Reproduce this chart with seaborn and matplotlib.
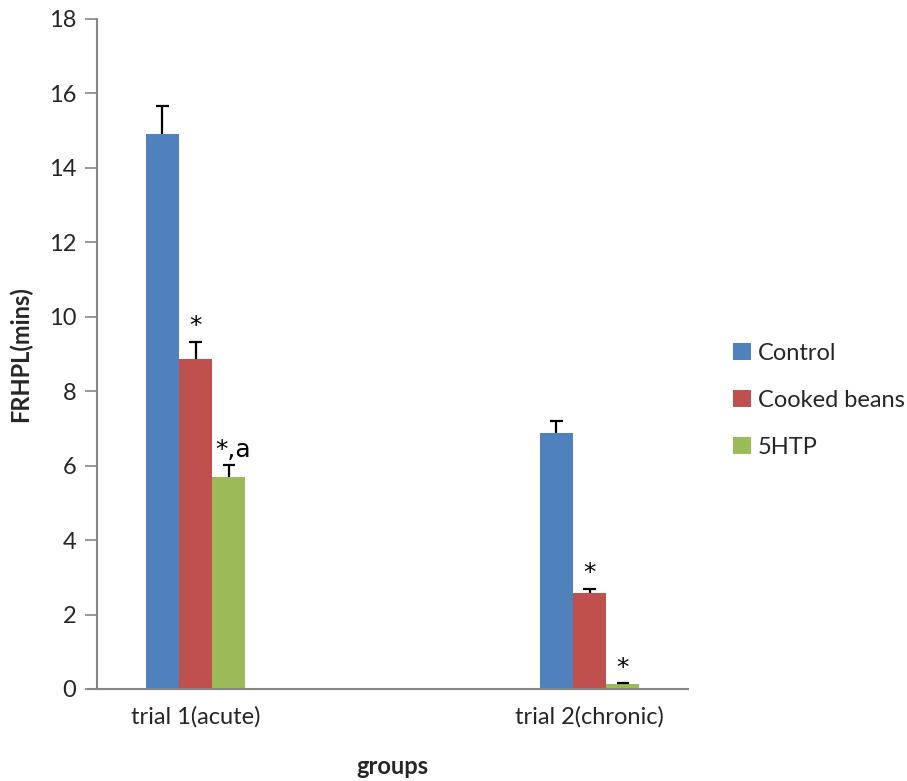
import matplotlib
matplotlib.use("Agg")
import matplotlib.pyplot as plt
import seaborn as sns
import pandas as pd

groups = ["trial 1(acute)", "trial 2(chronic)"]
treatments = ["Control", "Cooked beans", "5HTP"]
control = [14.91, 6.87]
cooked_beans = [8.86, 2.57]
htp = [5.70, 0.13]
control_err = [0.75, 0.34]
cooked_beans_err = [0.46, 0.12]
htp_err = [0.31, 0.02]
marks = {("Cooked beans", 0): "*", ("5HTP", 0): "*,a",
         ("Cooked beans", 1): "*", ("5HTP", 1): "*"}
yticks = [0, 2, 4, 6, 8, 10, 12, 14, 16, 18]

palette = {"Control": "#4F81BD", "Cooked beans": "#C0504D", "5HTP": "#9BBB59"}

rows = []
for name, vals, errs in [("Control", control, control_err),
                         ("Cooked beans", cooked_beans, cooked_beans_err),
                         ("5HTP", htp, htp_err)]:
    for g, v, e in zip(groups, vals, errs):
        rows.append({"group": g, "treatment": name, "value": v, "err": e})
df = pd.DataFrame(rows)

sns.set_theme(style="white")
plt.rcParams["font.family"] = ["Lato", "DejaVu Sans"]

FS = 17

fig = plt.figure(figsize=(9.07, 7.81), dpi=100)
ax = fig.add_axes([0.107, 0.1178, 0.6516, 0.8579])

sns.barplot(data=df, x="group", y="value", hue="treatment", order=groups,
            hue_order=treatments, palette=palette, width=0.252, gap=0,
            errorbar=None, saturation=1, ax=ax, legend=True,
            edgecolor="none", linewidth=0)

# upper-only error bars with a short cap, plus significance marks
cap_half = 0.0155
for ti, name in enumerate(treatments):
    container = ax.containers[ti]
    for gi, bar in enumerate(container):
        x = bar.get_x() + bar.get_width() / 2
        h = bar.get_height()
        sub = df[(df.treatment == name) & (df.group == groups[gi])]
        e = float(sub.err.iloc[0])
        ax.vlines(x, h, h + e, color="black", linewidth=1.6, zorder=4)
        ax.hlines(h + e, x - cap_half, x + cap_half, color="black",
                  linewidth=1.6, zorder=4)
        label = marks.get((name, gi))
        if label:
            ax.text(x + (0.012 if len(label) > 1 else 0), h + e + 0.42, label,
                    ha="center", va="center", fontsize=18, color="black",
                    family=["DejaVu Sans"])

ax.set_xlim(-0.25, 1.25)
ax.set_ylim(0, 18)
ax.set_yticks(yticks)
ax.set_yticklabels([str(t) for t in yticks], fontsize=FS)
ax.tick_params(axis="y", direction="out", length=9, width=1.2,
               color="#868686", pad=6, left=True)
ax.tick_params(axis="x", length=0, pad=12, labelsize=FS)

for side in ["top", "right"]:
    ax.spines[side].set_visible(False)
for side in ["left", "bottom"]:
    ax.spines[side].set_color("#868686")
    ax.spines[side].set_linewidth(1.5)
ax.spines["bottom"].set_bounds(-0.273, 1.25)

ax.set_xlabel("groups", fontsize=FS, fontweight="bold", labelpad=20)
ax.set_ylabel("FRHPL(mins)", fontsize=FS, fontweight="bold", labelpad=12)

handles, labels = ax.get_legend_handles_labels()
ax.legend(handles, labels, loc="center left", bbox_to_anchor=(1.04, 0.431),
          frameon=False, fontsize=FS, handlelength=0.75, handleheight=0.75,
          handletextpad=0.3, labelspacing=1.1)

fig.savefig("out.png", dpi=100)
